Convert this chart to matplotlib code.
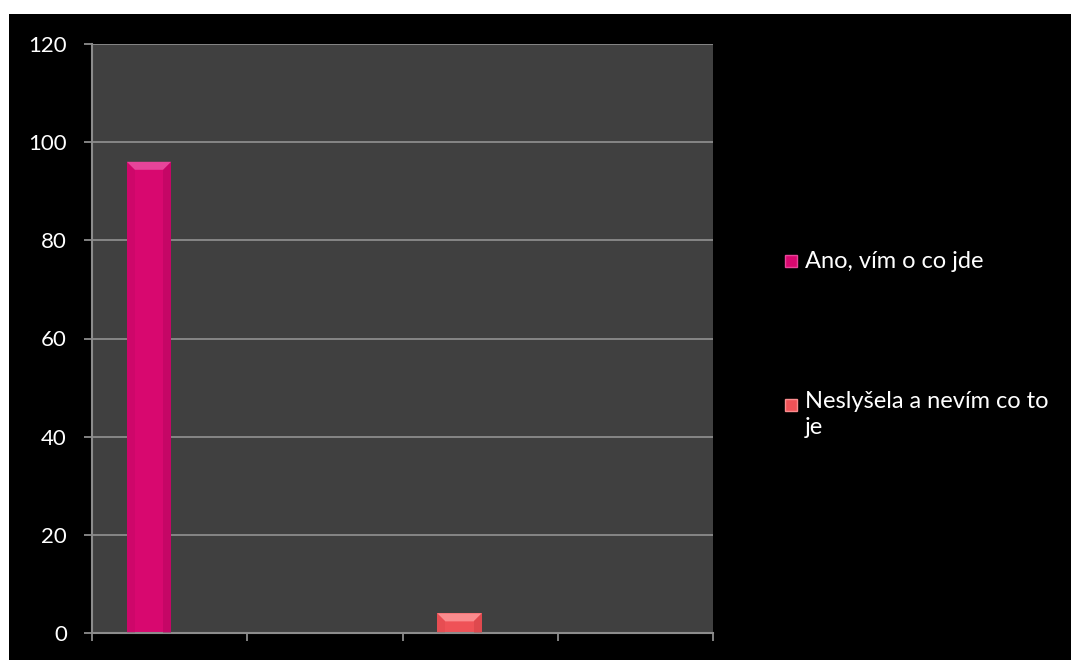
import numpy as np
import matplotlib
matplotlib.use('Agg')
import matplotlib.pyplot as plt
from matplotlib.patches import Rectangle, Polygon

# survey answers, 4 category slots on the x axis
slots = [0, 1, 2, 3]
series_names = ['Ano, vím o co jde', 'Neslyšela a nevím co to\nje']
series_slot = [0, 2]
series_values = [96, 4]
series_colors = ['#D8086F', '#EF5257']
bevel_light = ['#E8449A', '#FA8C8E']
bevel_dark = ['#A9045A', '#C93C42']
yticks = [0, 20, 40, 60, 80, 100, 120]

W, H, DPI = 1071, 660, 100
fig = plt.figure(figsize=(W / DPI, H / DPI), dpi=DPI, facecolor='white')
# black chart area, white margin top/left
fig.patches.append(Rectangle((9 / W, 0), 1, 1 - 14 / H, transform=fig.transFigure,
                             facecolor='black', edgecolor='none', zorder=-5))

L, R, T, B = 92, 713, 44, 633
ax = fig.add_axes([L / W, (H - B) / H, (R - L) / W, (B - T) / H])
ax.set_facecolor('#404040')
ax.set_xlim(0, len(slots))
ax.set_ylim(0, 120)

grid_c = '#8C8C8C'
for y in yticks[1:]:
    ax.axhline(y, color=grid_c, lw=1.3, zorder=1)
for s in ['top', 'right']:
    ax.spines[s].set_visible(False)
for s in ['left', 'bottom']:
    ax.spines[s].set_color(grid_c)
    ax.spines[s].set_linewidth(1.5)

ax.set_yticks(yticks)
ax.set_yticklabels([str(v) for v in yticks], color='white', fontsize=16, family='Lato')
ax.set_xticks(np.arange(len(slots) + 1))
ax.set_xticklabels([])
ax.tick_params(axis='y', length=6, width=1.3, color=grid_c, pad=12)
ax.tick_params(axis='x', length=6, width=1.3, color=grid_c)

bw = 0.285
xs = [s + 0.367 for s in series_slot]
bars = ax.bar(xs, series_values, width=bw, color=series_colors, zorder=2)

# bevel look: lighter top face, darker sides
px_x = len(slots) / (R - L)
px_y = 120 / (B - T)
d = 8
for rect, lc, dc in zip(bars, bevel_light, bevel_dark):
    x0, y0 = rect.get_x(), rect.get_y()
    x1, y1 = x0 + rect.get_width(), y0 + rect.get_height()
    dx, dy = d * px_x, min(d * px_y, (y1 - y0) / 2)
    ax.add_patch(Polygon([(x0, y1), (x1, y1), (x1 - dx, y1 - dy), (x0 + dx, y1 - dy)],
                         closed=True, facecolor=lc, edgecolor='none', zorder=3))
    ax.add_patch(Polygon([(x1, y1), (x1, y0), (x1 - dx, y0), (x1 - dx, y1 - dy)],
                         closed=True, facecolor=dc, edgecolor='none', alpha=0.4, zorder=3))
    ax.add_patch(Polygon([(x0, y1), (x0, y0), (x0 + dx, y0), (x0 + dx, y1 - dy)],
                         closed=True, facecolor=dc, edgecolor='none', alpha=0.2, zorder=3))

# legend on the right
leg_y = [261, 405]
for name, col, lc, y in zip(series_names, series_colors, bevel_light, leg_y):
    sx, sz = 785, 12
    fig.patches.append(Rectangle((sx / W, (H - y - sz / 2) / H), sz / W, sz / H,
                                 transform=fig.transFigure, facecolor=col,
                                 edgecolor=lc, lw=1, zorder=3))
    multi = '\n' in name
    fig.text(805 / W, (H - y + (14 if multi else 0)) / H, name, color='white',
             fontsize=17, family='Lato', va='top' if multi else 'center',
             ha='left', linespacing=1.3)

fig.savefig('out.png', dpi=DPI, facecolor='white')
